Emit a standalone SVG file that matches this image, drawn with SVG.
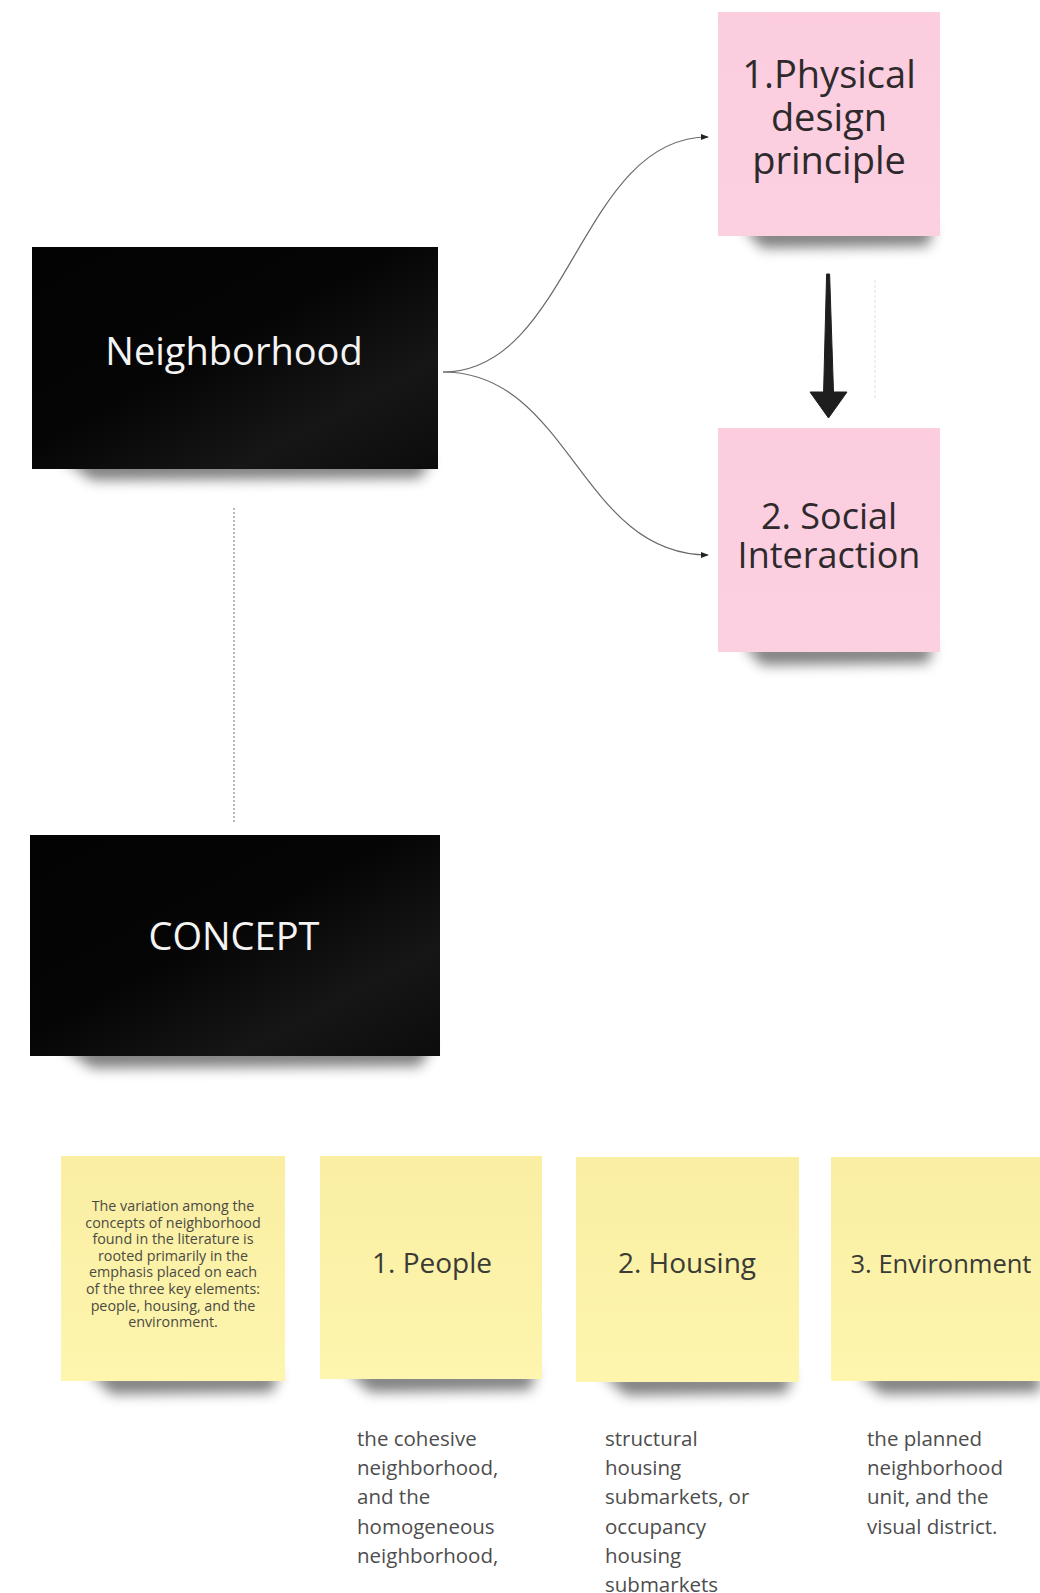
<svg xmlns="http://www.w3.org/2000/svg" width="1040" height="1593" viewBox="0 0 1040 1593">
  <defs>
    <style>
      .txt { font-family: "Open Sans", "Noto Sans", "DejaVu Sans", sans-serif; }
      .big-white { fill: #f4f4f4; font-size: 38px; text-anchor: middle; }
      .pink-label { fill: #2e2a2c; font-size: 38px; text-anchor: middle; }
      .sticky-label { fill: #3a3a36; font-size: 28px; text-anchor: middle; }
      .small-note { fill: #4a4a44; font-size: 14.3px; text-anchor: middle; }
      .caption { fill: #4d4d4d; font-size: 20.5px; }
      .curve { fill: none; stroke: #6a6a6a; stroke-width: 1.2; }
      .dotted { fill: none; stroke: #8a8a8a; stroke-width: 1.2; stroke-dasharray: 2 2; }
      .shadow { fill: #000; opacity: 0.5; filter: url(#soft); }
    </style>
    <filter id="soft" x="-20%" y="-100%" width="140%" height="300%">
      <feGaussianBlur stdDeviation="6.5"/>
    </filter>
    <linearGradient id="blackFill" x1="0" y1="0" x2="1" y2="1">
      <stop offset="0" stop-color="#030303"/>
      <stop offset="0.45" stop-color="#050505"/>
      <stop offset="0.75" stop-color="#161616"/>
      <stop offset="1" stop-color="#0c0c0c"/>
    </linearGradient>
    <linearGradient id="pinkFill" x1="0" y1="0" x2="0" y2="1">
      <stop offset="0" stop-color="#fbcddf"/>
      <stop offset="1" stop-color="#fcd0e1"/>
    </linearGradient>
    <linearGradient id="yellowFill" x1="0" y1="0" x2="0" y2="1">
      <stop offset="0" stop-color="#f9eea2"/>
      <stop offset="1" stop-color="#fef5ae"/>
    </linearGradient>
    <marker id="tip" viewBox="0 0 10 10" refX="9" refY="5" markerWidth="8" markerHeight="8" markerUnits="userSpaceOnUse" orient="auto">
      <path d="M0,1 L10,5 L0,9 Z" fill="#222"/>
    </marker>
  </defs>

  <rect width="1040" height="1593" fill="#ffffff"/>

  <!-- connectors -->
  <g id="connectors">
    <path class="curve" d="M443,372 C570,372 580,137 708,137" marker-end="url(#tip)"/>
    <path class="curve" d="M443,372 C570,372 580,555 708,555" marker-end="url(#tip)"/>
    <line class="dotted" x1="234" y1="508" x2="234" y2="822"/>
    <path d="M826.6,274 L829.6,274 L833.5,392 L847,392 L828.5,418 L810,392 L823.6,392 Z" fill="#1e1e1e" stroke="#1e1e1e" stroke-width="1" stroke-linejoin="round"/>
    <line x1="875" y1="280" x2="875" y2="400" stroke="#ececec" stroke-width="1.5" stroke-dasharray="3 2"/>
  </g>

  <!-- black title cards -->
  <g id="node-neighborhood">
    <path class="shadow" d="M62,458 L432,458 L420,478 L92,480 Z"/>
    <rect x="32" y="247" width="406" height="222" fill="url(#blackFill)"/>
    <text class="txt big-white" x="234" y="365">Neighborhood</text>
  </g>

  <g id="node-concept">
    <path class="shadow" d="M60,1045 L432,1045 L420,1066 L92,1068 Z"/>
    <rect x="30" y="835" width="410" height="221" fill="url(#blackFill)"/>
    <text class="txt big-white" x="234" y="950">CONCEPT</text>
  </g>

  <!-- pink notes -->
  <g id="node-physical">
    <path class="shadow" d="M742,226 L934,226 L928,246 L762,248 Z"/>
    <rect x="718" y="12" width="222" height="224" fill="url(#pinkFill)"/>
    <text class="txt pink-label" x="829" y="88">1.Physical<tspan x="829" dy="43">design</tspan><tspan x="829" dy="43">principle</tspan></text>
  </g>

  <g id="node-social">
    <path class="shadow" d="M742,643 L934,643 L928,663 L762,665 Z"/>
    <rect x="718" y="428" width="222" height="224" fill="url(#pinkFill)"/>
    <text class="txt pink-label" x="829" y="529" style="font-size:36px">2. Social<tspan x="829" dy="39">Interaction</tspan></text>
  </g>

  <!-- yellow notes -->
  <g id="node-variation">
    <path class="shadow" d="M88,1372 L280,1372 L272,1392 L112,1394 Z"/>
    <rect x="61" y="1156" width="224" height="225" fill="url(#yellowFill)"/>
    <text class="txt small-note" x="173" y="1211">The variation among the<tspan x="173" dy="16.6">concepts of neighborhood</tspan><tspan x="173" dy="16.6">found in the literature is</tspan><tspan x="173" dy="16.6">rooted primarily in the</tspan><tspan x="173" dy="16.6">emphasis placed on each</tspan><tspan x="173" dy="16.6">of the three key elements:</tspan><tspan x="173" dy="16.6">people, housing, and the</tspan><tspan x="173" dy="16.6">environment.</tspan></text>
  </g>

  <g id="node-people">
    <path class="shadow" d="M346,1370 L537,1370 L530,1390 L370,1392 Z"/>
    <rect x="320" y="1156" width="222" height="223" fill="url(#yellowFill)"/>
    <text class="txt sticky-label" x="432" y="1273">1. People</text>
  </g>

  <g id="node-housing">
    <path class="shadow" d="M601,1373 L793,1373 L786,1393 L626,1395 Z"/>
    <rect x="576" y="1157" width="223" height="225" fill="url(#yellowFill)"/>
    <text class="txt sticky-label" x="687" y="1273">2. Housing</text>
  </g>

  <g id="node-environment">
    <path class="shadow" d="M856,1372 L1040,1372 L1040,1392 L882,1394 Z"/>
    <rect x="831" y="1157" width="215" height="224" fill="url(#yellowFill)"/>
    <text class="txt sticky-label" x="941" y="1273" style="font-size:25.5px">3. Environment</text>
  </g>

  <!-- captions under the notes -->
  <g id="caption-people">
    <text class="txt caption" x="357" y="1446">the cohesive<tspan x="357" dy="29.2">neighborhood,</tspan><tspan x="357" dy="29.2">and the</tspan><tspan x="357" dy="29.2">homogeneous</tspan><tspan x="357" dy="29.2">neighborhood,</tspan></text>
  </g>

  <g id="caption-housing">
    <text class="txt caption" x="605" y="1446">structural<tspan x="605" dy="29.2">housing</tspan><tspan x="605" dy="29.2">submarkets, or</tspan><tspan x="605" dy="29.2">occupancy</tspan><tspan x="605" dy="29.2">housing</tspan><tspan x="605" dy="29.2">submarkets</tspan></text>
  </g>

  <g id="caption-environment">
    <text class="txt caption" x="867" y="1446">the planned<tspan x="867" dy="29.2">neighborhood</tspan><tspan x="867" dy="29.2">unit, and the</tspan><tspan x="867" dy="29.2">visual district.</tspan></text>
  </g>
</svg>
